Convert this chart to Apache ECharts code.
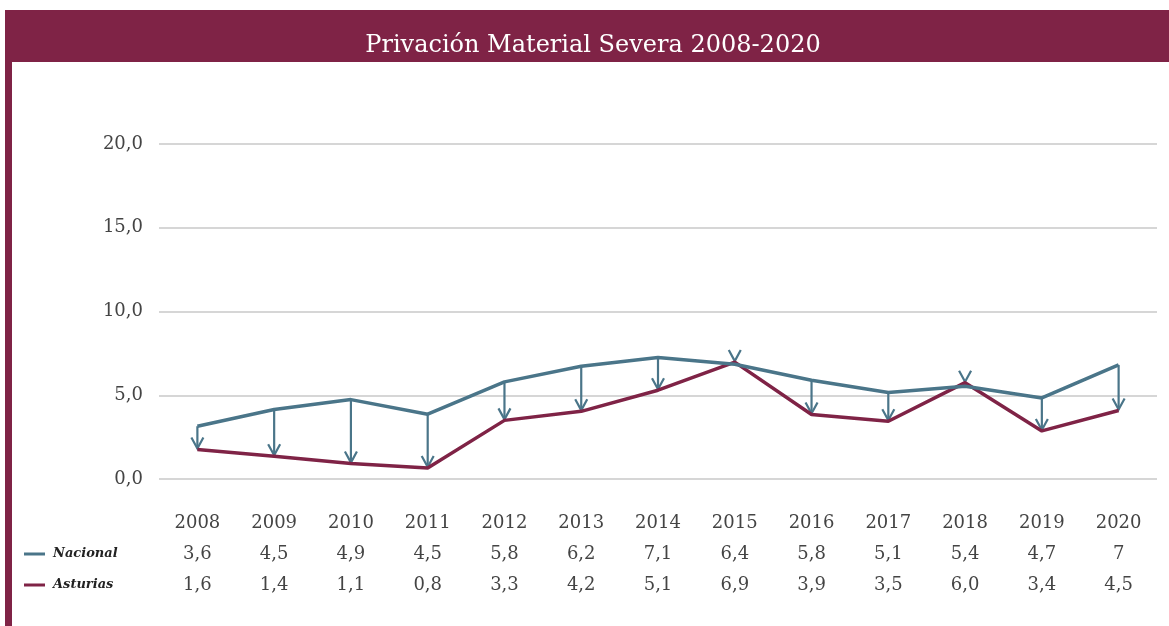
<!DOCTYPE html>
<html>
<head>
<meta charset="utf-8">
<script src="https://cdn.jsdelivr.net/npm/echarts@6/dist/echarts.min.js"></script>
<style>
  html, body { margin: 0; padding: 0; background: #fff; }
  #chart { width: 1169px; height: 626px; }
</style>
</head>
<body>
<div id="chart"></div>
<script>
// datos
const years = ["2008", "2009", "2010", "2011", "2012", "2013", "2014", "2015", "2016", "2017", "2018", "2019", "2020"];
// valores de la tabla (tal como aparecen)
const nacionalTabla = ["3,6", "4,5", "4,9", "4,5", "5,8", "6,2", "7,1", "6,4", "5,8", "5,1", "5,4", "4,7", "7"];
const asturiasTabla = ["1,6", "1,4", "1,1", "0,8", "3,3", "4,2", "5,1", "6,9", "3,9", "3,5", "6,0", "3,4", "4,5"];
// valores dibujados en las líneas
const nacional = [3.15, 4.15, 4.74, 3.87, 5.8, 6.73, 7.25, 6.85, 5.9, 5.16, 5.54, 4.84, 6.81];
const asturias = [1.76, 1.36, 0.92, 0.66, 3.5, 4.04, 5.3, 6.98, 3.85, 3.45, 5.75, 2.87, 4.09];

const azul = "#4a7589";
const granate = "#7f2346";
const fuente = "DejaVu Serif";

const chart = echarts.init(document.getElementById("chart"));

const flechas = years.map((y, i) => [i, nacional[i], asturias[i]]);

function tablaAxis(data, offset) {
  return {
    type: "category",
    gridIndex: 0,
    position: "bottom",
    offset: offset,
    data: data,
    boundaryGap: true,
    axisLine: { show: false },
    axisTick: { show: false },
    axisLabel: {
      margin: 35,
      fontFamily: fuente,
      fontSize: 18,
      color: "#444",
      interval: 0
    }
  };
}

const option = {
  animation: false,
  graphic: [
    { type: "rect", left: 5, top: 10, shape: { width: 1164, height: 52 }, style: { fill: granate }, z: -1 },
    { type: "rect", left: 5, top: 62, shape: { width: 7, height: 564 }, style: { fill: granate }, z: -1 }
  ],
  title: {
    text: "Privación Material Severa 2008-2020",
    left: 588,
    textAlign: "center",
    top: 29,
    textStyle: { color: "#fff", fontFamily: fuente, fontSize: 24, fontWeight: "normal" }
  },
  legend: {
    data: ["Nacional", "Asturias"],
    orient: "vertical",
    left: 19,
    top: 541,
    icon: "rect",
    itemWidth: 21,
    itemHeight: 3,
    itemGap: 15,
    textStyle: {
      fontFamily: fuente,
      fontSize: 13,
      fontStyle: "italic",
      fontWeight: "bold",
      color: "#222",
      lineHeight: 16,
      padding: [0, 0, 0, 3]
    }
  },
  grid: { left: 159, right: 12, top: 144, bottom: 147 },
  xAxis: [
    tablaAxis(years, 0),
    tablaAxis(nacionalTabla, 31),
    tablaAxis(asturiasTabla, 62)
  ],
  yAxis: {
    type: "value",
    min: 0,
    max: 20,
    interval: 5,
    axisLine: { show: false },
    axisTick: { show: false },
    axisLabel: {
      margin: 16,
      fontFamily: fuente,
      fontSize: 18,
      color: "#444",
      padding: [3, 0, 0, 0],
      formatter: (v) => v.toFixed(1).replace(".", ",")
    },
    splitLine: { lineStyle: { color: "#c8c8c8", width: 1.5 } }
  },
  series: [
    {
      name: "flechas",
      type: "custom",
      xAxisIndex: 0,
      data: flechas,
      encode: { x: 0, y: [1, 2] },
      z: 1,
      renderItem: function (params, api) {
        const i = api.value(0);
        const p1 = api.coord([i, api.value(1)]);
        const p2 = api.coord([i, api.value(2)]);
        const st = { stroke: azul, lineWidth: 2.2, fill: null };
        return {
          type: "group",
          children: [
            { type: "line", shape: { x1: p1[0], y1: p1[1], x2: p2[0], y2: p2[1] - 1 }, style: st },
            {
              type: "polyline",
              shape: { points: [[p2[0] - 6, p2[1] - 12], [p2[0], p2[1] - 1], [p2[0] + 6, p2[1] - 12]] },
              style: st
            }
          ]
        };
      }
    },
    {
      name: "Nacional",
      type: "line",
      xAxisIndex: 0,
      data: nacional,
      symbol: "none",
      z: 3,
      lineStyle: { color: azul, width: 3.5 },
      itemStyle: { color: azul }
    },
    {
      name: "Asturias",
      type: "line",
      xAxisIndex: 0,
      data: asturias,
      symbol: "none",
      z: 2,
      lineStyle: { color: granate, width: 3.5 },
      itemStyle: { color: granate }
    }
  ]
};

chart.setOption(option);
</script>
</body>
</html>
